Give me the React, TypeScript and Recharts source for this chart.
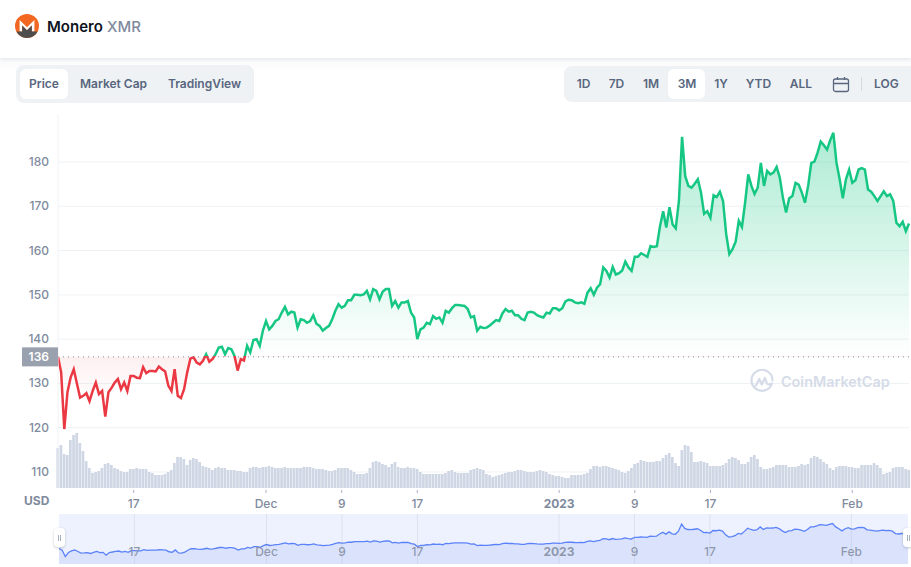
import { Area, Bar, CartesianGrid, ComposedChart, AreaChart, ReferenceLine, XAxis, YAxis } from "recharts";

// One sample every 8 hours from 9 Nov 2022 (slot 0) to 7 Feb 2023 (slot 270)
const PRICES = [
  136.0, 132.5, 119.7, 128.0, 131.3, 133.2, 130.0, 126.8, 127.2, 127.8,
  126.0, 128.3, 130.2, 127.6, 128.3, 122.5, 128.0, 129.0, 130.2, 131.0,
  128.7, 130.2, 128.3, 131.7, 131.7, 131.3, 131.2, 133.7, 132.3, 132.8,
  132.8, 132.7, 133.8, 133.2, 132.7, 129.5, 128.3, 133.2, 127.2, 126.7,
  128.7, 132.5, 135.6, 135.9, 134.7, 134.3, 135.1, 136.6, 134.9, 135.5,
  136.6, 138.1, 138.3, 136.6, 138.0, 137.7, 136.2, 132.9, 135.5, 135.2,
  138.5, 137.0, 139.8, 140.0, 138.5, 141.9, 144.1, 142.2, 143.0, 144.1,
  144.5, 146.0, 147.3, 145.6, 146.2, 146.0, 142.6, 144.5, 144.3, 143.7,
  144.1, 145.4, 143.5, 143.0, 141.9, 142.5, 143.0, 144.5, 146.4, 147.9,
  147.1, 147.5, 148.8, 148.8, 150.0, 150.0, 149.9, 150.1, 150.9, 149.0,
  151.3, 150.9, 149.0, 150.7, 151.3, 151.3, 147.5, 148.6, 147.1, 148.3,
  148.3, 148.6, 146.0, 144.9, 140.0, 142.2, 142.6, 143.7, 143.4, 145.2,
  144.6, 144.9, 143.7, 146.4, 146.0, 147.0, 147.7, 147.7, 147.6, 147.5,
  146.8, 144.9, 145.2, 141.9, 142.8, 142.5, 142.6, 143.1, 143.7, 144.3,
  144.1, 145.8, 146.8, 146.2, 146.4, 145.4, 145.4, 144.6, 144.3, 146.0,
  146.2, 146.0, 145.4, 145.1, 144.9, 146.0, 145.8, 147.0, 147.0, 146.5,
  147.0, 148.5, 148.9, 148.8, 148.3, 148.1, 148.3, 148.0, 150.5, 151.5,
  150.0, 151.6, 152.4, 156.2, 155.4, 153.9, 156.3, 154.6, 154.9, 155.5,
  157.5, 156.2, 155.4, 158.6, 158.6, 159.4, 159.0, 158.6, 161.0, 160.8,
  161.0, 165.5, 168.9, 165.2, 169.8, 165.9, 165.0, 171.2, 185.7, 176.8,
  174.6, 174.2, 175.1, 176.1, 173.1, 168.3, 168.9, 167.4, 172.5, 172.1,
  173.3, 171.2, 163.7, 159.2, 160.3, 162.0, 166.7, 165.3, 170.8, 177.2,
  174.6, 172.8, 174.2, 179.8, 174.6, 178.0, 177.2, 177.6, 178.9, 176.5,
  171.9, 168.6, 171.8, 172.3, 175.3, 174.9, 173.1, 170.8, 174.6, 179.8,
  180.1, 182.1, 184.6, 183.8, 182.8, 184.9, 186.6, 179.8, 176.1, 171.8,
  176.1, 178.3, 175.3, 175.9, 178.3, 178.6, 178.3, 173.8, 173.3, 172.3,
  171.2, 172.3, 173.4, 172.3, 172.7, 171.2, 166.3, 165.5, 166.5, 164.4,
  166.1,
];

// Relative traded volume for the same slots
const VOLUMES = [
  40, 43, 34, 33, 48, 53, 55, 45, 37, 27,
  20, 15, 16, 17, 20, 24, 25, 23, 20, 19,
  17, 16, 16, 19, 19, 20, 19, 19, 19, 16,
  15, 13, 13, 13, 14, 16, 18, 25, 31, 31,
  29, 23, 28, 30, 29, 26, 22, 21, 20, 18,
  20, 21, 20, 20, 18, 18, 18, 17, 17, 16,
  16, 20, 21, 21, 20, 21, 21, 22, 21, 20,
  20, 20, 21, 20, 20, 20, 20, 20, 21, 21,
  21, 20, 19, 19, 19, 18, 17, 17, 18, 20,
  20, 20, 20, 18, 16, 14, 14, 14, 15, 20,
  26, 27, 26, 24, 23, 21, 24, 26, 21, 20,
  20, 21, 20, 20, 19, 16, 14, 14, 14, 14,
  14, 14, 14, 15, 17, 18, 16, 15, 15, 15,
  15, 18, 19, 20, 19, 18, 14, 13, 11, 12,
  13, 14, 15, 16, 16, 17, 18, 18, 17, 16,
  16, 16, 17, 18, 17, 16, 14, 13, 12, 12,
  11, 10, 10, 13, 13, 13, 13, 14, 15, 19,
  22, 22, 21, 22, 22, 21, 20, 19, 18, 16,
  15, 17, 20, 24, 25, 28, 27, 26, 26, 26,
  27, 27, 30, 33, 35, 31, 25, 22, 38, 43,
  42, 36, 26, 26, 27, 26, 25, 22, 22, 22,
  22, 23, 25, 29, 31, 30, 28, 24, 24, 26,
  31, 33, 29, 21, 19, 19, 20, 21, 23, 23,
  23, 23, 21, 21, 21, 22, 24, 23, 24, 30,
  32, 31, 29, 26, 24, 20, 18, 21, 22, 22,
  22, 21, 21, 20, 20, 23, 23, 23, 23, 25,
  23, 20, 14, 15, 16, 20, 21, 21, 21, 19,
  18,
];

const DATE_SLOTS = [24, 66, 90, 114, 159, 183, 207, 252];
const DATE_LABELS = ["17", "Dec", "9", "17", "2023", "9", "17", "Feb"];
const PRICE_TICKS = [110, 120, 130, 140, 150, 160, 170, 180];
const OPEN_PRICE = 136;

const LEFT_TABS = ["Price", "Market Cap", "TradingView"];
const RANGE_TABS = ["1D", "7D", "1M", "3M", "1Y", "YTD", "ALL"];

const chartData = PRICES.map((price, slot) => ({ slot, price, volume: VOLUMES[slot] }));

const FONT = "Inter, sans-serif";
const GREEN = "#16c784";
const RED = "#ea3943";
const MUTED = "#808a9d";

function PriceTick({ y, payload }: any) {
  if (payload.value === OPEN_PRICE) {
    return (
      <g>
        <rect x={22} y={y - 9.5} width={36} height={19} fill="#9aa1ae" />
        <text x={49} y={y + 4} textAnchor="end" fontSize={12} fontWeight={600} fill="#fff" fontFamily={FONT}>
          {payload.value}
        </text>
      </g>
    );
  }
  return (
    <text x={49} y={y + 4} textAnchor="end" fontSize={12} fontWeight={500} fill={MUTED} fontFamily={FONT}>
      {payload.value}
    </text>
  );
}

function DateTick({ x, y, payload }: any) {
  const label = DATE_LABELS[DATE_SLOTS.indexOf(payload.value)];
  return (
    <g>
      <line x1={x} x2={x} y1={y - 6} y2={y - 3} stroke="#a6b0c3" />
      <text
        x={x}
        y={y + 12}
        textAnchor="middle"
        fontSize={12}
        fontWeight={label === "2023" ? 700 : 500}
        fill={MUTED}
        fontFamily={FONT}
      >
        {label}
      </text>
    </g>
  );
}

function NavigatorLabel({ viewBox, text }: any) {
  return (
    <text
      x={viewBox.x}
      y={42}
      textAnchor="middle"
      fontSize={12}
      fontWeight={text === "2023" ? 700 : 500}
      fill={MUTED}
      fillOpacity={0.85}
      fontFamily={FONT}
    >
      {text}
    </text>
  );
}

function MoneroLogo() {
  return (
    <svg width={24} height={24} viewBox="0 0 24 24" style={{ position: "absolute", left: 15, top: 14 }}>
      <circle cx={12} cy={12} r={12} fill="#f26822" />
      <path d="M4.6 17.5V6L12 13.2 19.4 6v11.5h-2.6v-6L12 16.2l-4.8-4.7v6z" fill="#fff" />
      <path d="M1.4 17.5h5.8v-6l4.8 4.7 4.8-4.7v6h5.8A12 12 0 0 1 1.4 17.5z" fill="#4d4d4d" />
    </svg>
  );
}

function Watermark() {
  return (
    <div style={{ position: "absolute", left: 750, top: 369, width: 145, height: 26, pointerEvents: "none" }}>
      <svg width={24} height={25} viewBox="0 0 24 25" style={{ position: "absolute", left: 0, top: 0 }}>
        <path
          d="M22 14.5A10.5 10.5 0 1 1 22.5 11.5M6 16.5l3.2-6.5 2.6 5.5 3-6.5 2.2 5.5c.6 1.2 2 1.3 3.5.5"
          fill="none"
          stroke="#d5dce8"
          strokeWidth={2.2}
          strokeLinecap="round"
          strokeLinejoin="round"
        />
      </svg>
      <span
        style={{
          position: "absolute",
          left: 31,
          top: 3,
          fontSize: 14.4,
          lineHeight: "20px",
          fontWeight: 600,
          color: "#d5dce8",
          whiteSpace: "nowrap",
        }}
      >
        CoinMarketCap
      </span>
    </div>
  );
}

function Handle({ left }: { left: number }) {
  return (
    <div
      style={{
        position: "absolute",
        left,
        top: 528,
        width: 11,
        height: 19,
        background: "#fff",
        borderRadius: 4,
        boxShadow: "0 1px 3px rgba(88,102,126,.35)",
        display: "flex",
        alignItems: "center",
        justifyContent: "center",
        gap: 1,
      }}
    >
      <span style={{ width: 1, height: 6, background: "#a6b0c3" }} />
      <span style={{ width: 1, height: 6, background: "#a6b0c3" }} />
    </div>
  );
}

export default function App() {
  const tabText = { fontSize: 12, fontWeight: 600, color: "#58667e", position: "absolute", top: 0, lineHeight: "38px" } as const;
  const leftCenters = [44, 113.5, 204.5];
  const rangeCenters = [583.5, 616.5, 651, 687, 721, 758.5, 801];

  return (
    <div style={{ position: "absolute", left: 0, top: 0, width: 911, height: 567, background: "#fff", fontFamily: FONT, overflow: "hidden" }}>
      {/* Header */}
      <div style={{ position: "absolute", left: 0, top: 0, width: 911, height: 58, background: "#fff", boxShadow: "0 1px 4px rgba(88,102,126,.14)", zIndex: 2 }} />
      <div style={{ position: "absolute", left: 0, top: 58, width: 911, height: 14, background: "linear-gradient(#f8f9fb, #fff)" }} />
      <div style={{ position: "absolute", left: 0, top: 0, zIndex: 3 }}>
        <MoneroLogo />
        <span style={{ position: "absolute", left: 47, top: 17, fontSize: 15, lineHeight: "20px", fontWeight: 600, color: "#0d1421" }}>Monero</span>
        <span style={{ position: "absolute", left: 107, top: 17, fontSize: 15, lineHeight: "20px", fontWeight: 500, color: MUTED }}>XMR</span>
      </div>

      {/* Chart type tabs */}
      <div style={{ position: "absolute", left: 16, top: 65, width: 238, height: 38, background: "#eff2f5", borderRadius: 8 }} />
      <div style={{ position: "absolute", left: 20, top: 69, width: 48, height: 30, background: "#fff", borderRadius: 6 }} />
      <div style={{ position: "absolute", left: 0, top: 65 }}>
        {LEFT_TABS.map((tab, i) => (
          <span key={tab} style={{ ...tabText, left: leftCenters[i], transform: "translateX(-50%)", whiteSpace: "nowrap" }}>
            {tab}
          </span>
        ))}
      </div>

      {/* Range tabs */}
      <div style={{ position: "absolute", left: 564, top: 66, width: 347, height: 36, background: "#eff2f5", borderRadius: "8px 0 0 8px" }} />
      <div style={{ position: "absolute", left: 668, top: 69, width: 37, height: 30, background: "#fff", borderRadius: 6 }} />
      <div style={{ position: "absolute", left: 0, top: 65 }}>
        {RANGE_TABS.map((tab, i) => (
          <span key={tab} style={{ ...tabText, left: rangeCenters[i], transform: "translateX(-50%)" }}>
            {tab}
          </span>
        ))}
        <span style={{ ...tabText, left: 874, lineHeight: "37px" }}>LOG</span>
      </div>
      <svg width={18} height={18} viewBox="0 0 18 18" style={{ position: "absolute", left: 832, top: 76 }}>
        <rect x={1.5} y={3} width={15} height={12.5} rx={2} fill="none" stroke="#58667e" strokeWidth={1.3} />
        <path d="M1.5 7.5h15M5.5 1v3M12.5 1v3" fill="none" stroke="#58667e" strokeWidth={1.3} />
      </svg>
      <div style={{ position: "absolute", left: 861, top: 77, width: 1, height: 14, background: "#d5dbe5" }} />

      {/* Main chart */}
      <div style={{ position: "absolute", left: 0, top: 0 }}>
        <ComposedChart width={911} height={510} data={chartData} margin={{ top: 114, right: 2, bottom: 0, left: 0 }}>
          <defs>
            <linearGradient id="priceStroke" gradientUnits="userSpaceOnUse" x1={0} x2={0} y1={114} y2={488}>
              <stop offset="0.647" stopColor={GREEN} />
              <stop offset="0.647" stopColor={RED} />
            </linearGradient>
            <linearGradient id="priceFill" gradientUnits="userSpaceOnUse" x1={0} x2={0} y1={125} y2={400}>
              <stop offset="0" stopColor={GREEN} stopOpacity={0.36} />
              <stop offset="0.84" stopColor={GREEN} stopOpacity={0} />
              <stop offset="0.84" stopColor={RED} stopOpacity={0.08} />
              <stop offset="1" stopColor={RED} stopOpacity={0} />
            </linearGradient>
          </defs>
          <CartesianGrid vertical={false} stroke="#eff2f5" horizontalValues={PRICE_TICKS} yAxisId="price" />
          <XAxis
            dataKey="slot"
            type="number"
            scale="linear"
            domain={[0, 270]}
            ticks={DATE_SLOTS}
            interval={0}
            tick={DateTick}
            tickLine={false}
            axisLine={false}
            height={22}
          />
          <YAxis
            yAxisId="price"
            width={58}
            domain={[106.39, 190.84]}
            ticks={[...PRICE_TICKS, OPEN_PRICE]}
            interval={0}
            tick={PriceTick}
            tickLine={false}
            axisLine={{ stroke: "#eff2f5" }}
          />
          <YAxis yAxisId="volume" hide domain={[0, 374]} />
          <Bar yAxisId="volume" dataKey="volume" barSize={2.7} fill="#cfd6e4" isAnimationActive={false} />
          <ReferenceLine yAxisId="price" y={OPEN_PRICE} stroke="#808a9d" strokeDasharray="1 4" />
          <Area
            yAxisId="price"
            type="linear"
            dataKey="price"
            baseValue={OPEN_PRICE}
            stroke="url(#priceStroke)"
            strokeWidth={2.5}
            fill="url(#priceFill)"
            fillOpacity={1}
            dot={false}
            activeDot={false}
            isAnimationActive={false}
          />
        </ComposedChart>
      </div>
      <span style={{ position: "absolute", left: 24, top: 493, fontSize: 12, lineHeight: "15px", fontWeight: 700, color: MUTED }}>USD</span>
      <Watermark />

      {/* Range navigator */}
      <div style={{ position: "absolute", left: 59, top: 514 }}>
        <AreaChart width={849} height={50} data={chartData} margin={{ top: 0, right: 0, bottom: 0, left: 0 }} style={{ background: "#eef2fe" }}>
          <XAxis dataKey="slot" type="number" domain={[0, 270]} hide />
          <YAxis hide domain={[104.7, 206]} />
          <Area
            type="linear"
            dataKey="price"
            stroke="#5b82f8"
            strokeWidth={1.3}
            fill="#dbe3fc"
            fillOpacity={1}
            dot={false}
            activeDot={false}
            isAnimationActive={false}
          />
          {DATE_SLOTS.map((slot, i) => (
            <ReferenceLine
              key={slot}
              x={slot}
              stroke="#808a9d"
              strokeOpacity={0.15}
              label={<NavigatorLabel text={DATE_LABELS[i]} />}
            />
          ))}
        </AreaChart>
      </div>
      <Handle left={54} />
      <Handle left={903} />
    </div>
  );
}
